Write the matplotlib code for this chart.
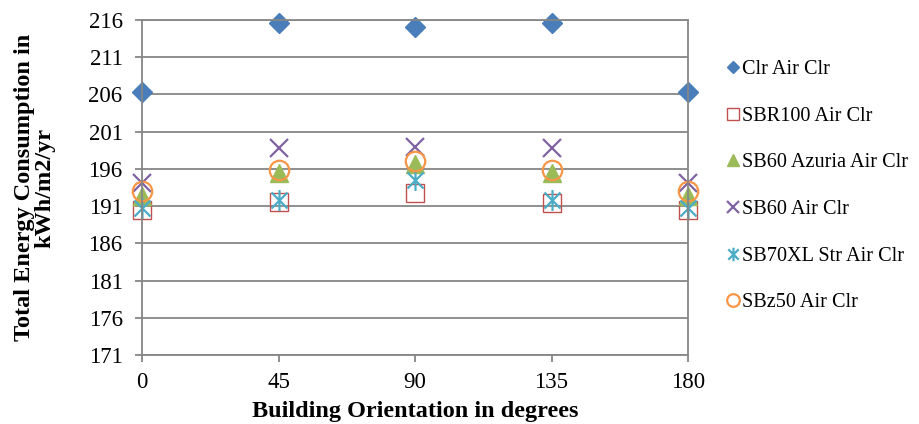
import matplotlib
matplotlib.use("Agg")
import matplotlib.pyplot as plt
from matplotlib.path import Path

plt.rcParams['font.family'] = ['Liberation Serif', 'DejaVu Serif']

orientations = [0, 45, 90, 135, 180]
series_names = ["Clr Air Clr", "SBR100 Air Clr", "SB60 Azuria Air Clr",
                "SB60 Air Clr", "SB70XL Str Air Clr", "SBz50 Air Clr"]
clr_air_clr = [206.3, 215.6, 215.1, 215.6, 206.3]
sbr100_air_clr = [190.5, 191.6, 192.7, 191.4, 190.5]
sb60_azuria_air_clr = [192.3, 195.5, 196.7, 195.5, 192.3]
sb60_air_clr = [194.1, 198.8, 199.0, 198.8, 194.1]
sb70xl_str_air_clr = [190.8, 191.8, 194.5, 191.8, 190.8]
sbz50_air_clr = [193.0, 195.8, 197.0, 195.8, 193.0]
y_ticks = [171, 176, 181, 186, 191, 196, 201, 206, 211, 216]
x_ticks = [0, 45, 90, 135, 180]

# asterisk marker: an "x" with a vertical bar through it
asterisk = Path([(-1, -1), (1, 1), (-1, 1), (1, -1), (0, -1.3), (0, 1.3)],
                [Path.MOVETO, Path.LINETO, Path.MOVETO, Path.LINETO,
                 Path.MOVETO, Path.LINETO])

styles = [
    dict(marker='D', color='#4A7EBB', markersize=10, mfc='#4A7EBB', mec='#4A7EBB'),
    dict(marker='s', color='#C0504D', markersize=13, mfc='none', mec='#C0504D', mew=1.0),
    dict(marker='^', color='#9BBB59', markersize=13, mfc='#9BBB59', mec='#9BBB59'),
    dict(marker='x', color='#8064A2', markersize=13, mec='#8064A2', mew=1.6),
    dict(marker=asterisk, color='#4BACC6', markersize=15, mec='#4BACC6', mew=1.6),
    dict(marker='o', color='#F79646', markersize=14, mfc='none', mec='#F79646', mew=1.6),
]
values = [clr_air_clr, sbr100_air_clr, sb60_azuria_air_clr,
          sb60_air_clr, sb70xl_str_air_clr, sbz50_air_clr]

W, H = 919, 424
fig = plt.figure(figsize=(W / 100, H / 100), dpi=100)
ax = fig.add_axes([142 / W, 1 - 355 / H, 546 / W, 335 / H])

for name, vals, st in zip(series_names, values, styles):
    ax.plot(orientations, vals, linestyle='none', label=name, clip_on=False, **st)

ax.set_xlim(0, 180)
ax.set_ylim(171, 216)
ax.set_yticks(y_ticks)
ax.set_xticks(x_ticks)
ax.yaxis.grid(True, color='#868686', linewidth=1.3)
ax.set_axisbelow(True)
for sp in ax.spines.values():
    sp.set_color('#868686')
    sp.set_linewidth(1.3)
ax.tick_params(axis='both', direction='out', length=5, width=1.3, color='#868686',
               labelsize=16.5)
ax.tick_params(axis='y', pad=9)
ax.tick_params(axis='x', pad=7)

ax.set_xlabel("Building Orientation in degrees", fontsize=17.5, fontweight='bold', labelpad=6)
ax.set_ylabel("Total Energy Consumption in\nkWh/m2/yr", fontsize=17.5, fontweight='bold',
              labelpad=24, linespacing=0.95)

fig.legend(loc='upper left', bbox_to_anchor=(718 / W, 1 - 50 / H), frameon=False,
           fontsize=14.6, markerscale=0.65, handlelength=0.5, handletextpad=0.2,
           labelspacing=1.35, borderpad=0)

fig.savefig("out.png", dpi=100)
